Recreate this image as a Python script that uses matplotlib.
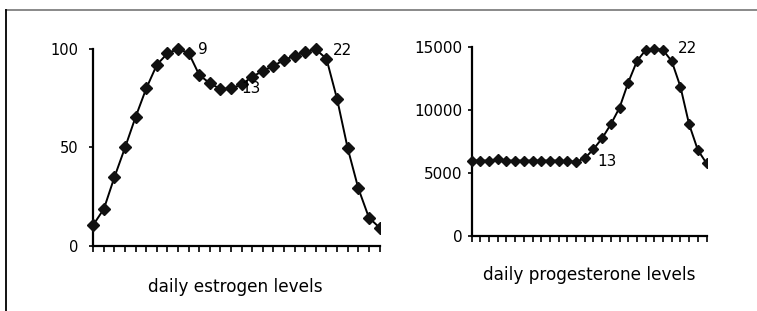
import matplotlib
matplotlib.use("Agg")
import matplotlib.pyplot as plt
from matplotlib.lines import Line2D

plt.rcParams['font.family'] = ['DejaVu Sans']

days = list(range(28))
estrogen = [10.7, 18.8, 35, 50, 65.6, 80, 92, 97.8, 100, 98, 86.8, 82.6, 79.7, 80,
            82, 86, 88.8, 91.5, 94.4, 96.6, 98.6, 99.8, 95, 74.6, 49.6, 29.3, 14.4, 9.3]
progesterone = [6000, 6000, 6000, 6100, 6000, 6000, 6000, 6000, 6000, 6000, 6000, 5950, 5900,
                6180, 6900, 7770, 8880, 10200, 12200, 13900, 14780, 14900, 14780, 13900,
                11870, 8880, 6840, 5780]
est_yticks = [0, 50, 100]
prog_yticks = [0, 5000, 10000, 15000]
est_labels = [("9", 9.9, 100), ("13", 14.0, 80), ("22", 22.6, 99)]
prog_labels = [("13", 14.5, 5900), ("22", 23.7, 14900)]
est_title = "daily estrogen levels"
prog_title = "daily progesterone levels"

W, H = 757, 311
fig = plt.figure(figsize=(W / 100, H / 100), dpi=100)
fig.patch.set_facecolor('white')

# frame lines
fig.add_artist(Line2D([6 / W, 1], [1 - 9.5 / H, 1 - 9.5 / H], color='#808080', lw=1.3))
fig.add_artist(Line2D([6 / W, 6 / W], [0, 1 - 9.5 / H], color='black', lw=1.3))


def setup(ax, x, y, yticks, ylim, pad, ms, lsize):
    ax.plot(x, y, color='black', lw=1.4, marker='D', ms=ms, mfc='#111111', mec='#111111',
            clip_on=True, zorder=3)
    ax.set_xlim(-0.6, 27)
    ax.set_ylim(*ylim)
    ax.spines['top'].set_visible(False)
    ax.spines['right'].set_visible(False)
    ax.spines['left'].set_position(('data', 0))
    ax.spines['bottom'].set_position(('data', 0))
    ax.spines['left'].set_bounds(yticks[0], yticks[-1])
    ax.spines['bottom'].set_bounds(0, 27)
    for s in ('left', 'bottom'):
        ax.spines[s].set_linewidth(1.6)
    ax.set_xticks(x)
    ax.set_xticklabels([])
    ax.set_yticks(yticks)
    ax.set_yticklabels([str(t) for t in yticks])
    ax.tick_params(axis='x', direction='out', length=4.2, width=1.2)
    ax.tick_params(axis='y', direction='out', length=3, width=1.2, pad=pad, labelsize=lsize)
    ax.patch.set_alpha(0)


ax1 = fig.add_axes([86.9 / W, 1 - 249.9 / H, (379.5 - 86.9) / W, (249.9 - 37.2) / H])
setup(ax1, days, estrogen, est_yticks, (-2, 106), 8, 6.2, 10.5)
for t, x, y in est_labels:
    ax1.text(x, y, t, ha='left', va='center', fontsize=11)

ax2 = fig.add_axes([466.5 / W, 1 - 239.8 / H, (706.5 - 466.5) / W, (239.8 - 34.7) / H])
setup(ax2, days, progesterone, prog_yticks, (-300, 16000), 3.5, 5.6, 11)
for t, x, y in prog_labels:
    ax2.text(x, y, t, ha='left', va='center', fontsize=11)

fig.text(235.8 / W, 1 - 286.7 / H, est_title, ha='center', va='center', fontsize=12.2)
fig.text(589 / W, 1 - 275 / H, prog_title, ha='center', va='center', fontsize=12.2)

fig.savefig('out.png', dpi=100, facecolor='white')
